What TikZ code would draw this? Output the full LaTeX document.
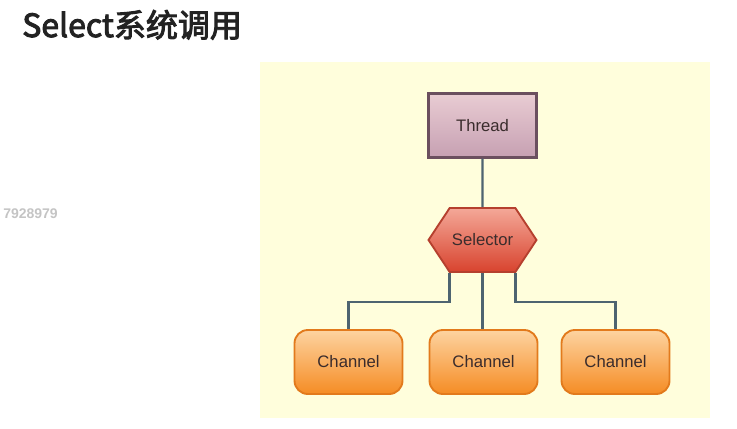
\documentclass[tikz,border=0pt]{standalone}
\usepackage{fontspec}
\setmainfont{Liberation Sans}
\newfontfamily\cjk[UprightFeatures={FakeBold=3}]{Noto Sans CJK SC}
\usetikzlibrary{shapes.symbols}
\definecolor{panelbg}{HTML}{FFFEDC}
\definecolor{wire}{HTML}{4E6470}
\definecolor{labeltext}{HTML}{3A2C2C}
\definecolor{titletext}{HTML}{222222}
\definecolor{marktext}{HTML}{C4C4C4}
\definecolor{threadline}{HTML}{6B4F5F}
\definecolor{threadtop}{HTML}{E9CCD3}
\definecolor{threadbot}{HTML}{C6A0B2}
\definecolor{selline}{HTML}{B5402E}
\definecolor{seltop}{HTML}{F4A898}
\definecolor{selbot}{HTML}{D8432E}
\definecolor{chanline}{HTML}{E27A1C}
\definecolor{chantop}{HTML}{FDD3A0}
\definecolor{chanbot}{HTML}{F58C24}
\begin{document}
\begin{tikzpicture}[x=0.75pt,y=-0.75pt,
  box/.style={draw,line width=1.4pt,minimum width=81pt,minimum height=48pt,inner sep=0pt,font=\fontsize{12.5}{14}\selectfont,text=labeltext},
  threadbox/.style={box,line width=1.6pt,draw=threadline,top color=threadtop,bottom color=threadbot},
  selbox/.style={box,shape=signal,signal from=nowhere,signal to=east and west,signal pointer angle=113,draw=selline,top color=seltop,bottom color=selbot},
  chanbox/.style={box,rounded corners=10pt,draw=chanline,top color=chantop,bottom color=chanbot},
  link/.style={draw=wire,line width=1.6pt}]
  \useasboundingbox (0,0) rectangle (737,428);
  \fill[panelbg] (260,62) rectangle (710,418);

  \node[anchor=base west,inner sep=0pt,font=\cjk\fontsize{24}{27}\selectfont,text=titletext] (title) at (22,37) {Select系统调用};
  \node[anchor=base west,inner sep=0pt,font=\fontsize{10.5}{12}\selectfont\bfseries,text=marktext] (mark) at (3,218) {7928979};

  \node[threadbox] (thread) at (482.5,125.5) {Thread};
  \node[selbox] (sel) at (482.5,240) {Selector};
  \node[chanbox] (ch1) at (348.5,362) {Channel};
  \node[chanbox] (ch2) at (483.5,362) {Channel};
  \node[chanbox] (ch3) at (615.5,362) {Channel};

  \draw[link] (thread) -- (sel);
  \draw[link] ([xshift=-24.75pt]sel.south) -- ++(0,29) -| (ch1.north);
  \draw[link] (sel.south) -- (sel.south |- ch2.north);
  \draw[link] ([xshift=24.75pt]sel.south) -- ++(0,29) -| (ch3.north);
\end{tikzpicture}
\end{document}
